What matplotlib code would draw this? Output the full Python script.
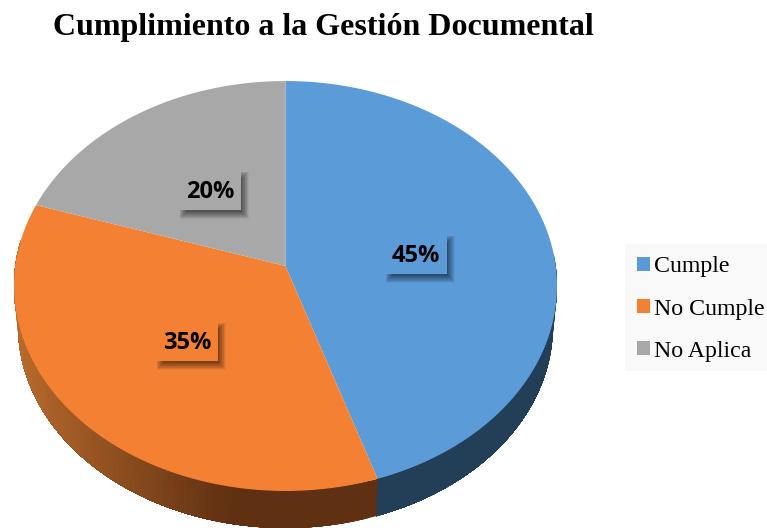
import numpy as np
import matplotlib
matplotlib.use('Agg')
import matplotlib.pyplot as plt
from matplotlib.patches import Patch, Rectangle

categories = ['Cumple', 'No Cumple', 'No Aplica']
values = [45, 35, 20]
value_labels = ['45%', '35%', '20%']
colors = ['#5B9BD7', '#F48133', '#A8A8A8']
title = 'Cumplimiento a la Gestión Documental'

# pixel canvas
W, H = 767, 528
cx, cy = 285.5, 266.0
R, S, k = 270.2, 203.0, 0.0976  # tilted disc, back edge looks smaller
label_xy = [(416, 254), (187, 341), (210, 190)]

def rim(frac, r=R, s=S, y0=cy):
    # frac is the share of the circle, clockwise from 12 o'clock
    a = 2*np.pi*np.asarray(frac)
    u, v = np.sin(a), np.cos(a)
    w = 1 + k*v
    return cx + r*u/w, y0 - s*v/w

def side_color(i, x):
    # darker towards the middle of the front, like the 3d bevel
    if i == 0:
        return np.array(matplotlib.colors.to_rgb('#233F58'))
    left = np.array(matplotlib.colors.to_rgb('#B86A2C'))
    right = np.array(matplotlib.colors.to_rgb('#5F3012'))
    t = np.clip((x-20)/(235-20), 0, 1)
    return left*(1-t) + right*t

fig = plt.figure(figsize=(W/100, H/100), dpi=100)
ax = fig.add_axes([0, 0, 1, 1])
ax.set_xlim(0, W)
ax.set_ylim(H, 0)
ax.axis('off')

edges = np.cumsum([0] + values)/sum(values)

# side wall, front part only. each band runs to the end of the slice so no seams
for i in range(len(values)):
    lo, hi = max(edges[i], 0.24), min(edges[i+1], 0.77)
    if hi <= lo:
        continue
    f = np.linspace(lo, hi, 90)
    xt, yt = rim(f)
    xb, yb = rim(f, R*0.985, S*0.985, cy+40.5)
    for j in range(len(f)-1):
        ax.fill(np.r_[xt[j:], xb[j:][::-1]], np.r_[yt[j:], yb[j:][::-1]],
                color=side_color(i, xb[j]), lw=0, zorder=1)

# top of the pie
for i in range(len(values)):
    f = np.linspace(edges[i], edges[i+1], 200)
    xt, yt = rim(f)
    ax.fill(np.r_[cx, xt], np.r_[cy, yt], color=colors[i], lw=0, zorder=2)

# value labels, box with a soft shadow to the lower right
box_w, box_h = 62, 40
for (x, y), txt, c in zip(label_xy, value_labels, colors):
    x0, y0 = x-box_w/2, y-box_h/2
    for grow in np.linspace(3.5, -3.5, 12):
        ax.add_patch(Rectangle((x0+4-grow, y0+5-grow), box_w+2*grow, box_h+2*grow,
                               fc='black', ec='none', alpha=0.05, zorder=3))
    ax.add_patch(Rectangle((x0, y0), box_w, box_h, fc=c, ec='none', zorder=4))
    ax.text(x, y+2, txt, ha='center', va='center', family='Open Sans', weight='bold',
            fontsize=17, color='black', zorder=5)

ax.text(323.5, 27.5, title, ha='center', va='center', family='Liberation Serif',
        weight='bold', fontsize=23, color='black')

ax.add_patch(Rectangle((625, 244), 142, 127, fc='#F9F9F9', ec='none', zorder=1))
handles = [Patch(fc=c, ec='none') for c in colors]
leg = ax.legend(handles, categories, loc='center left', bbox_to_anchor=(637/W, 1-309/H),
                prop={'family': 'Liberation Serif', 'size': 17.2}, frameon=False,
                handlelength=0.55, handleheight=0.55, handletextpad=0.16,
                labelspacing=0.88, borderpad=0, borderaxespad=0)

fig.savefig('out.png', dpi=100)
